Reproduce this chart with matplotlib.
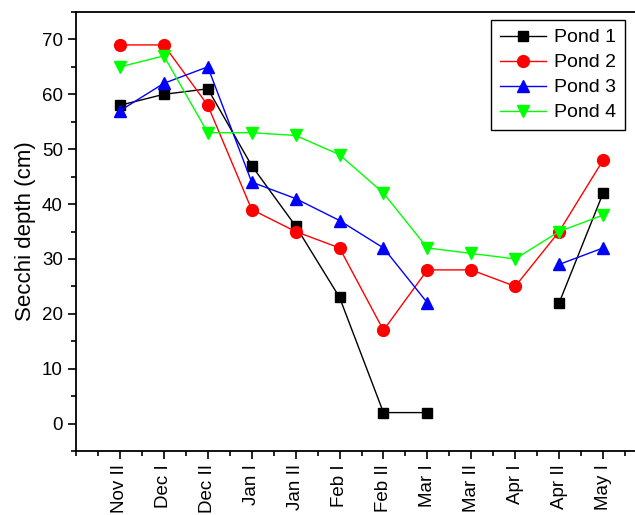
import numpy as np
import matplotlib
matplotlib.use("Agg")
import matplotlib.pyplot as plt
from matplotlib.ticker import MultipleLocator

plt.rcParams['font.family'] = ['Liberation Sans', 'DejaVu Sans']

categories = ["Nov II", "Dec I", "Dec II", "Jan I", "Jan II", "Feb I",
              "Feb II", "Mar I", "Mar II", "Apr I", "Apr II", "May I"]
nan = np.nan
pond1 = [58, 60, 61, 47, 36, 23, 2, 2, nan, nan, 22, 42]
pond2 = [69, 69, 58, 39, 35, 32, 17, 28, 28, 25, 35, 48]
pond3 = [57, 62, 65, 44, 41, 37, 32, 22, nan, nan, 29, 32]
pond4 = [65, 67, 53, 53, 52.5, 49, 42, 32, 31, 30, 35, 38]

series = [("Pond 1", pond1, "black", "s", 7),
          ("Pond 2", pond2, "red", "o", 8.5),
          ("Pond 3", pond3, "blue", "^", 9),
          ("Pond 4", pond4, "#00ff00", "v", 9)]

fig = plt.figure(figsize=(6.35, 5.15), dpi=100)
ax = fig.add_axes([76/635, (515-451)/515, (647-76)/635, (451-12)/515])

x = np.arange(len(categories))
for name, vals, col, mk, ms in series:
    ax.plot(x, vals, color=col, marker=mk, markersize=ms, linewidth=1.0,
            label=name)

ax.set_xlim(-1, 12)
ax.set_ylim(-5, 75)
ax.set_xticks(x)
ax.set_xticklabels(categories, rotation=90, fontsize=13.5)
ax.xaxis.set_minor_locator(MultipleLocator(0.5))
ax.yaxis.set_major_locator(MultipleLocator(10))
ax.yaxis.set_minor_locator(MultipleLocator(5))
ax.tick_params(axis='y', labelsize=13.5)
ax.tick_params(which='major', direction='out', length=6, width=1.2)
ax.tick_params(which='minor', direction='out', length=3.5, width=1.2)
ax.tick_params(top=False, right=False, which='both')
ax.set_ylim(-5, 75)
for s in ax.spines.values():
    s.set_linewidth(1.3)
ax.set_ylabel("Secchi depth (cm)", fontsize=16, labelpad=4)

leg = ax.legend(loc='upper right', bbox_to_anchor=(625/635, (515-20)/515),
                bbox_transform=fig.transFigure, borderaxespad=0,
                fontsize=14, fancybox=False, framealpha=1, edgecolor='black',
                handlelength=2.4, handletextpad=0.4, labelspacing=0.38,
                borderpad=0.45)
leg.get_frame().set_linewidth(1.0)

fig.savefig("out.png", dpi=100)
